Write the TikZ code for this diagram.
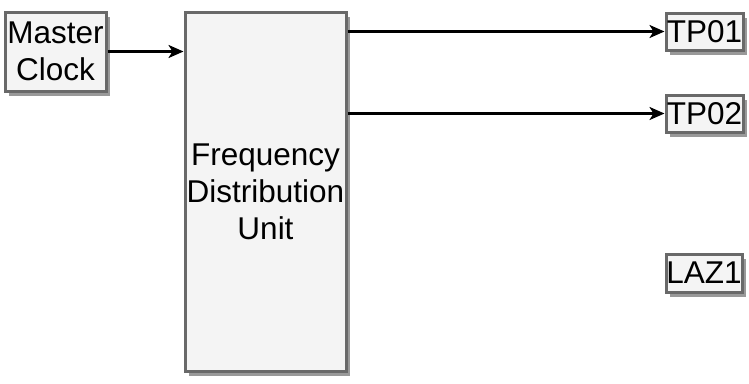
\documentclass[tikz,border=0pt]{standalone}
\usepackage{fontspec}
\setmainfont{Liberation Sans}
\usetikzlibrary{arrows.meta,shadows}
\begin{document}
\begin{tikzpicture}[x=1pt,y=-1pt,
  blk/.style={draw={rgb,255:red,105;green,105;blue,105},line width=3pt,fill={rgb,255:red,244;green,244;blue,244},
    inner sep=0pt,align=center,font=\fontsize{31.5}{37}\selectfont,
    drop shadow={shadow xshift=3.5pt,shadow yshift=-4.5pt,fill=black,opacity=0.4}},
  conn/.style={line width=2.4pt,-{Stealth[length=15pt,width=13pt,inset=4pt]}}]
\useasboundingbox (0,0) rectangle (749,383);
\node[blk,minimum width=101pt,minimum height=79pt] (mc) at (55.5,51.5) {Master\\Clock};
\node[blk,minimum width=161pt,minimum height=359pt] (fdu) at (265.5,191.5) {Frequency\\Distribution\\Unit};
\node[blk,minimum width=77pt,minimum height=37pt] (tp1) at (704.5,31.5) {TP01};
\node[blk,minimum width=77pt,minimum height=37pt] (tp2) at (704.5,113.5) {TP02};
\node[blk,minimum width=76pt,minimum height=38pt] (laz) at (704,273) {LAZ1};
\draw[conn] (mc.east) -- (mc.east -| fdu.west);
\draw[conn] (fdu.east |- tp1.west) -- (tp1.west);
\draw[conn] (fdu.east |- tp2.west) -- (tp2.west);
\end{tikzpicture}
\end{document}
